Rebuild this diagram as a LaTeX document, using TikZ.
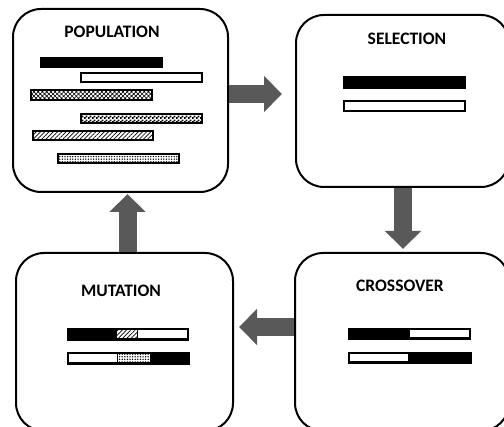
\documentclass[tikz,border=0pt]{standalone}
\usepackage{fontspec}
\setmainfont{Carlito}
\usetikzlibrary{arrows.meta,patterns,patterns.meta}
\definecolor{arrowgray}{HTML}{595959}
\pgfdeclarepatternformonly{smallchecker}{\pgfpointorigin}{\pgfpoint{4pt}{4pt}}{\pgfpoint{4pt}{4pt}}{%
  \pgfpathrectangle{\pgfpointorigin}{\pgfpoint{2.1pt}{2.1pt}}%
  \pgfpathrectangle{\pgfpoint{2pt}{2pt}}{\pgfpoint{2.1pt}{2.1pt}}%
  \pgfusepath{fill}}
\tikzset{
  x=1pt, y=-1pt,
  box/.style={draw=black, line width=2pt, rounded corners=28pt, inner sep=0pt, fill=white},
  title/.style={font=\fontsize{17.5}{20}\selectfont\bfseries, anchor=base, inner sep=0pt},
  blockarrow/.style={draw=arrowgray, line width=18pt, line cap=butt, -{Triangle[width=35pt,length=18pt]}},
  bar/.style={draw=black, line width=1.6pt},
  hatchpat/.style={pattern={Lines[angle=45, distance=3pt, line width=0.7pt]}},
  crosspat/.style={pattern={Hatch[angle=45, distance=3pt, line width=0.6pt]}},
  dotpat/.style={pattern={Dots[distance=2.6pt, radius=0.75pt]}},
}
\begin{document}
\begin{tikzpicture}
\useasboundingbox (0,0) rectangle (504,427);
\clip (0,0) rectangle (504,427);
\fill[white] (0,0) rectangle (504,427);
% boxes
\node[box, minimum width=215pt, minimum height=183pt] (pop) at (120.5,100.5) {};
\node[box, minimum width=213pt, minimum height=172pt] (sel) at (402.5,101) {};
\node[box, minimum width=217pt, minimum height=178pt] (mut) at (124.5,342) {};
\node[box, minimum width=214pt, minimum height=178pt] (cro) at (402,342) {};
% titles
\node[title] (tpop) at (112,38) {POPULATION};
\node[title] (tsel) at (407,45) {SELECTION};
\node[title] (tmut) at (121,297) {MUTATION};
\node[title] (tcro) at (400,292) {CROSSOVER};
% population bars
\fill[black] (40,57) rectangle (163,68);
\draw[bar] (81,73) rectangle (202,82);
\draw[bar, crosspat] (31,90) rectangle (152,100);
\draw[bar, line width=2.2pt, pattern=smallchecker] (81,114) rectangle (202,123);
\draw[bar, hatchpat] (33,131) rectangle (153,140);
\draw[bar, line width=2pt, dotpat] (58,154) rectangle (179,163);
% selection bars
\fill[black] (343,76) rectangle (466,89);
\draw[bar] (344,101) rectangle (465,111);
% crossover bars
\fill[black] (348,328) rectangle (471,340);
\fill[white] (410,330.5) rectangle (469,337.5);
\fill[black] (348,352) rectangle (472,364);
\fill[white] (350,354.5) rectangle (408,361.5);
% mutation bars
\fill[black] (67,328) rectangle (189,341);
\fill[white] (138,330.5) rectangle (187,338.5);
\fill[white] (117,330.5) rectangle (137,338.5);
\fill[hatchpat] (117,330.5) rectangle (137,338.5);
\fill[black] (67,352) rectangle (190,365);
\fill[white] (69,354.5) rectangle (117,362.5);
\fill[white] (118,354.5) rectangle (150,362.5);
\fill[dotpat] (118,354.5) rectangle (150,362.5);
% arrows
\coordinate (a1) at (0,94);
\coordinate (a2) at (403,0);
\coordinate (a3) at (0,327);
\coordinate (a4) at (127.5,0);
\draw[blockarrow, shorten >=13pt] (a1 -| pop.east) -- (a1 -| sel.west);
\draw[blockarrow, shorten >=3pt] (a2 |- sel.south) -- (a2 |- cro.north);
\draw[blockarrow, shorten >=5pt] (a3 -| cro.west) -- (a3 -| mut.east);
\draw[blockarrow, shorten >=1pt] (a4 |- mut.north) -- (a4 |- pop.south);
\end{tikzpicture}
\end{document}
